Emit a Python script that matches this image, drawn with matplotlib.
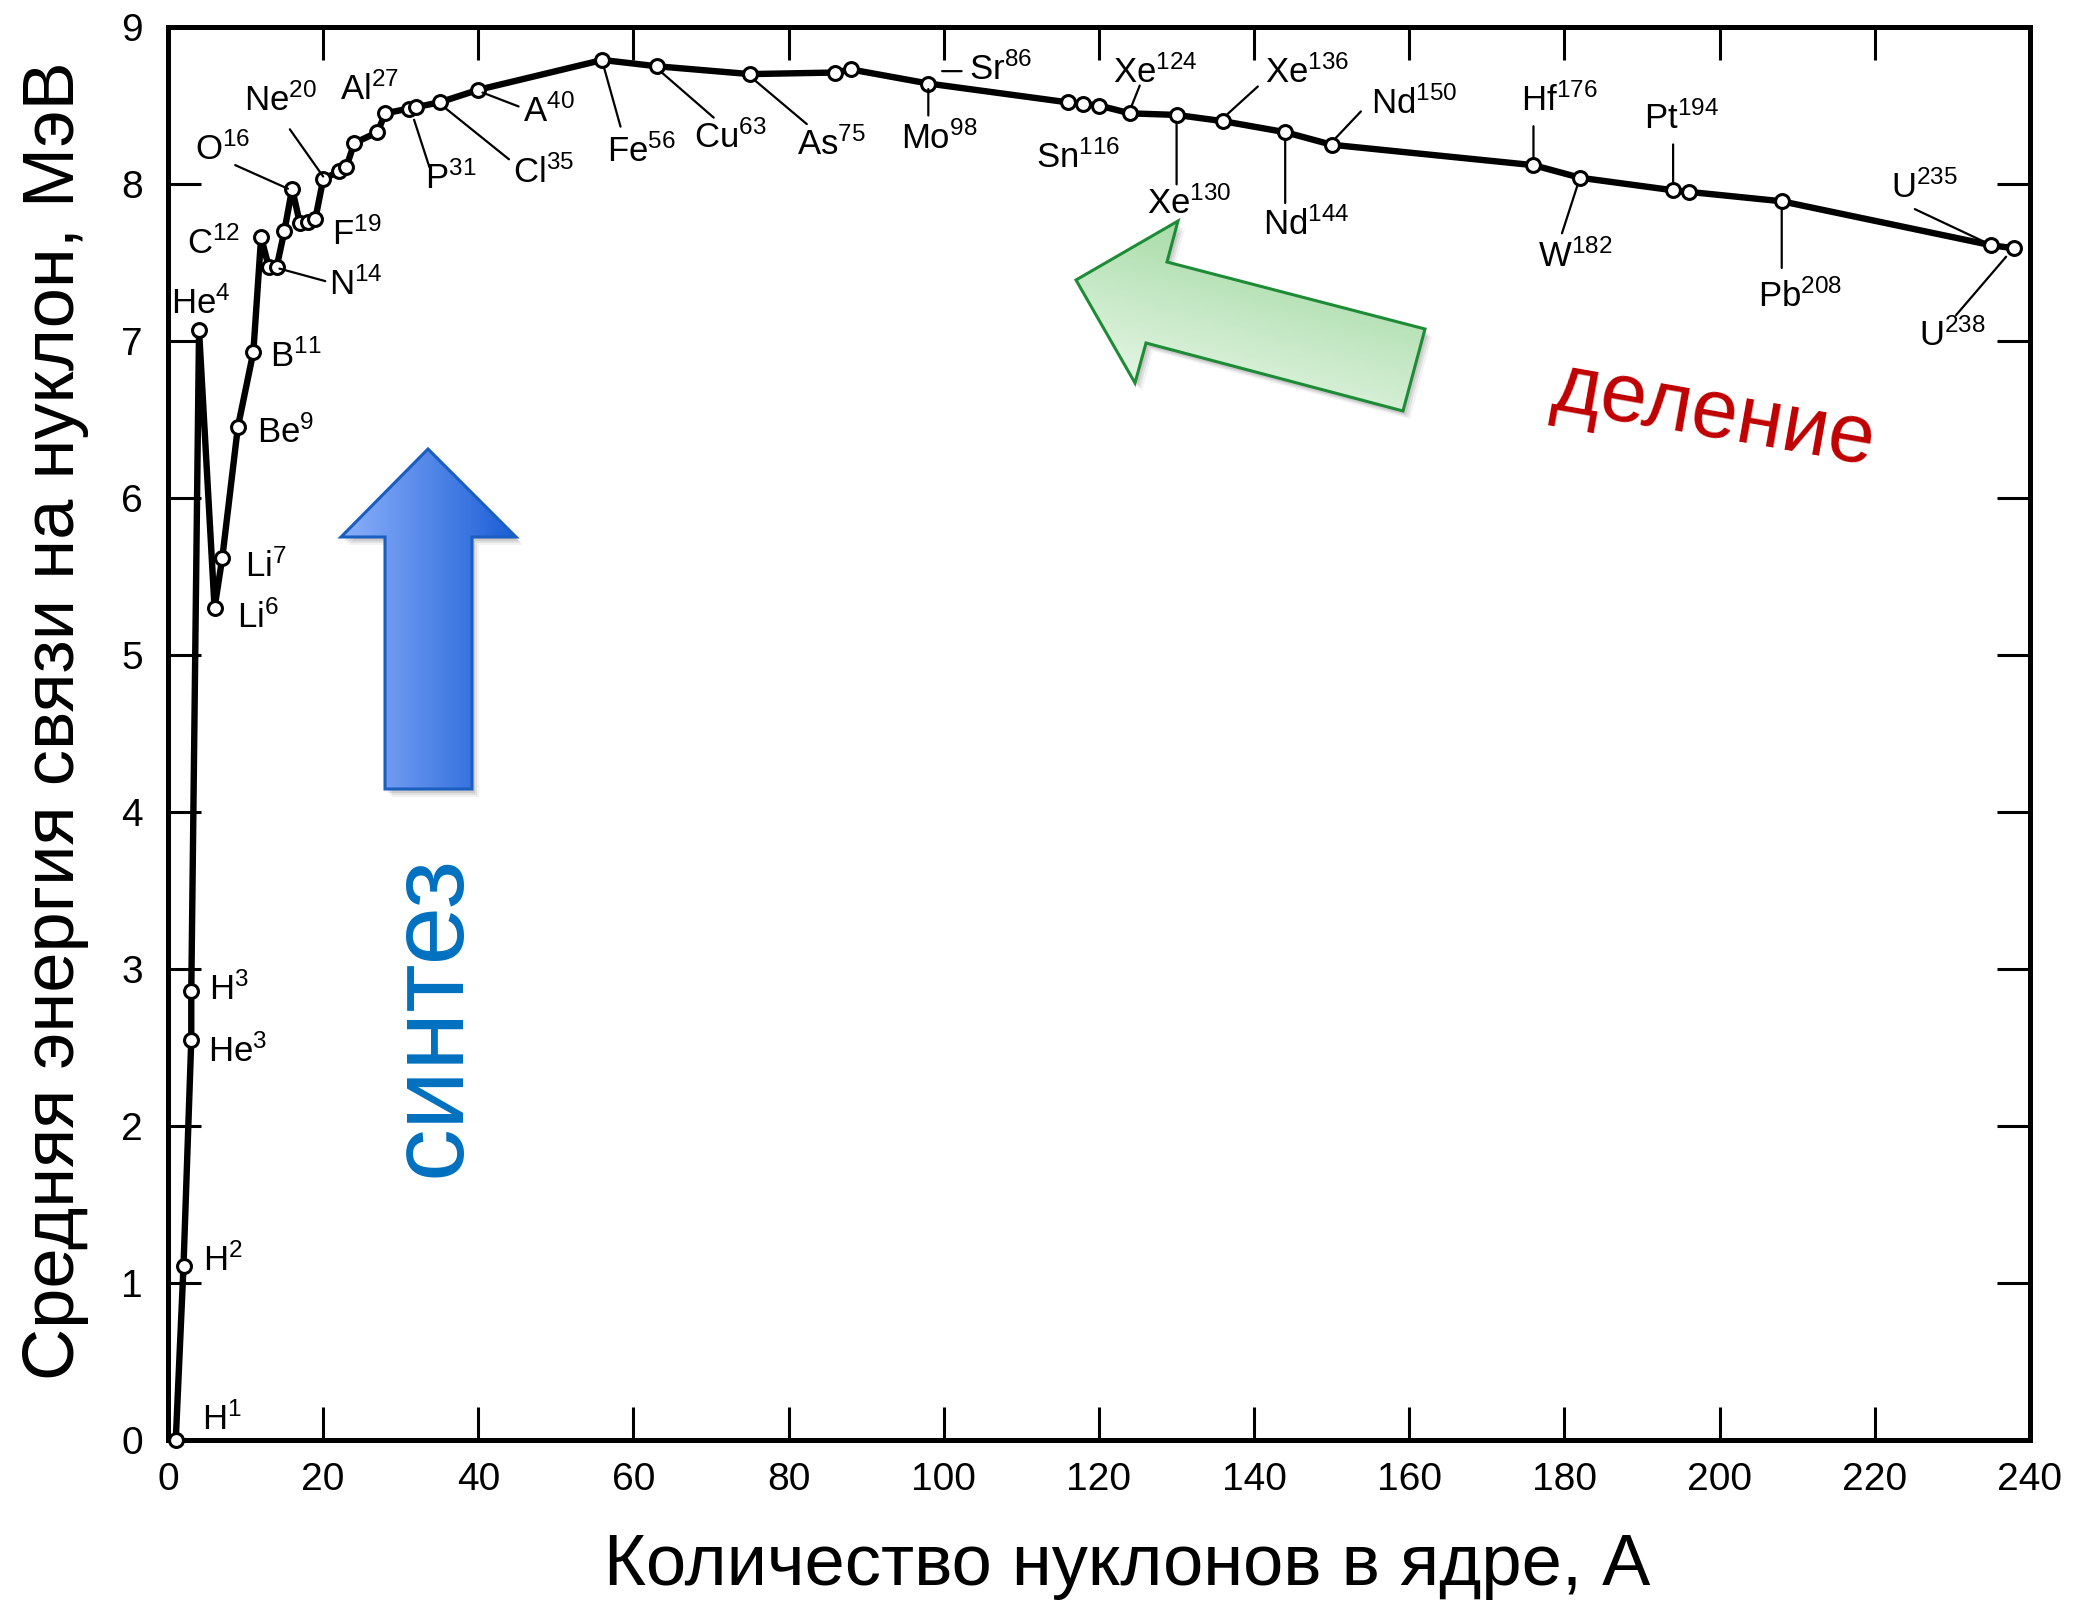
import re
import numpy as np
import matplotlib
matplotlib.use("Agg")
import matplotlib.pyplot as plt
from matplotlib.patches import Polygon
from matplotlib.transforms import ScaledTranslation
from matplotlib.colors import LinearSegmentedColormap

# ---------------------------------------------------------------- data
nuclide = ["H1", "H2", "He3", "H3", "He4", "Li6", "Li7", "Be9", "B11", "C12",
           "C13", "N14", "N15", "O16", "O17", "O18", "F19", "Ne20", "Ne22",
           "Na23", "Mg24", "Al27", "Si28", "P31", "S32", "Cl35", "A40",
           "Fe56", "Cu63", "As75", "Sr86", "Sr88", "Mo98", "Sn116", "Sn118",
           "Sn120", "Xe124", "Xe130", "Xe136", "Nd144", "Nd150", "Hf176",
           "W182", "Pt194", "Pt196", "Pb208", "U235", "U238"]
mass_number = [1, 2, 3, 3, 4, 6, 7, 9, 11, 12,
               13, 14, 15, 16, 17, 18, 19, 20, 22,
               23, 24, 27, 28, 31, 32, 35, 40,
               56, 63, 75, 86, 88, 98, 116, 118,
               120, 124, 130, 136, 144, 150, 176,
               182, 194, 196, 208, 235, 238]
binding_energy = [0.00, 1.11, 2.55, 2.86, 7.07, 5.30, 5.62, 6.45, 6.93, 7.66,
                  7.47, 7.47, 7.70, 7.97, 7.75, 7.76, 7.78, 8.03, 8.08,
                  8.11, 8.26, 8.33, 8.45, 8.48, 8.49, 8.52, 8.60,
                  8.79, 8.75, 8.70, 8.71, 8.73, 8.64, 8.52, 8.51,
                  8.50, 8.45, 8.44, 8.40, 8.33, 8.25, 8.12,
                  8.04, 7.96, 7.95, 7.89, 7.61, 7.59]

x_ticks = [0, 20, 40, 60, 80, 100, 120, 140, 160, 180, 200, 220, 240]
y_ticks = [0, 1, 2, 3, 4, 5, 6, 7, 8, 9]

x_label = "Количество нуклонов в ядре, А"
y_label = "Средняя энергия связи на нуклон, МэВ"
fusion_text = "синтез"
fission_text = "деление"

# ---------------------------------------------------------------- layout
# label offset from its point (points), leader segment (start, end) offsets
label_offset = {
    "H1": (19, 16), "H2": (14, 5), "He3": (12, -7), "H3": (13, 3),
    "He4": (-20, 21), "Li6": (16, -5), "Li7": (16, -5), "Be9": (14, -2),
    "B11": (12, -2), "C12": (-53, -3), "N14": (38, -11), "O16": (-70, 30),
    "F19": (12, -10), "Ne20": (-57, 58), "Al27": (-27, 32), "P31": (12, -49),
    "Cl35": (53, -49), "A40": (32, -14), "Fe56": (3, -64), "Cu63": (27, -50),
    "As75": (34, -49), "Sr86": (96, 4), "Mo98": (-20, -38),
    "Sn116": (-23, -38), "Xe124": (-12, 31), "Xe130": (-21, -62),
    "Xe136": (30, 37), "Nd144": (-16, -65), "Nd150": (28, 31),
    "Hf176": (-9, 48), "W182": (-30, -55), "Pt194": (-21, 53),
    "Pb208": (-17, -67), "U235": (-72, 43), "U238": (-69, -61),
}
leader = {
    "N14": ((2, -1), (35, -10)), "O16": ((-41, 17), (-3, 0)),
    "Ne20": ((-24, 36), (0, 2)), "P31": ((4, -8), (15, -42)),
    "Cl35": ((4, -4), (50, -41)), "A40": ((3, -2), (29, -12)),
    "Fe56": ((1, -5), (13, -48)), "Cu63": ((3, -4), (41, -37)),
    "As75": ((3, -4), (41, -36)), "Sr86": ((77, 1), (91, 1)),
    "Mo98": ((0, -4), (0, -23)), "Xe124": ((1, 5), (7, 20)),
    "Xe130": ((0, -5), (0, -50)), "Xe136": ((3, 5), (25, 25)),
    "Nd144": ((0, -5), (0, -51)), "Nd150": ((3, 5), (21, 24)),
    "Hf176": ((0, 5), (0, 28)), "W182": ((-2, -6), (-13, -40)),
    "Pt194": ((0, 5), (0, 33)), "Pb208": ((0, -6), (0, -48)),
    "U235": ((-55, 26), (-4, 2)), "U238": ((-6, -6), (-42, -48)),
}

FONT = "Liberation Sans"
plt.rcParams["font.family"] = [FONT, "DejaVu Sans"]
plt.rcParams["mathtext.fontset"] = "custom"
plt.rcParams["mathtext.rm"] = FONT
plt.rcParams["mathtext.it"] = FONT
plt.rcParams["mathtext.bf"] = FONT

W, H = 2085, 1605
fig = plt.figure(figsize=(W / 100, H / 100), dpi=100)
fig.patch.set_facecolor("white")

ax = fig.add_axes([168 / W, 1 - 1440 / H, (2030 - 168) / W, (1440 - 27) / H])
ax.set_xlim(0, 240)
ax.set_ylim(0, 9)
ax.set_xticks(x_ticks)
ax.set_yticks(y_ticks)
ax.set_xticklabels([str(v) for v in x_ticks])
ax.set_yticklabels([str(v) for v in y_ticks])
ax.tick_params(which="major", direction="in", length=24, width=2.2,
               top=True, right=True, labelsize=28, colors="black")
ax.tick_params(axis="y", pad=18)
ax.tick_params(axis="x", pad=16)
for sp in ax.spines.values():
    sp.set_linewidth(3.6)

ax.plot(mass_number, binding_energy, color="black", lw=4.6,
        solid_joinstyle="round", marker="o", ms=10, mfc="white",
        mec="black", mew=2.2, zorder=3, clip_on=False)


def shifted(dx, dy):
    return ax.transData + ScaledTranslation(dx / 72, dy / 72, fig.dpi_scale_trans)


for name, (dx, dy) in label_offset.items():
    i = nuclide.index(name)
    a, e = mass_number[i], binding_energy[i]
    sym, mass = re.match(r"([A-Za-z]+)(\d+)", name).groups()
    ax.text(a, e, f"{sym}$^{{{mass}}}$", transform=shifted(dx, dy - 9),
            ha="left", va="baseline", fontsize=25, color="black", zorder=4)
    if name in leader:
        (sx, sy), (ex, ey) = leader[name]
        ax.annotate("", xy=(a, e), xycoords=shifted(ex, ey),
                    xytext=(a, e), textcoords=shifted(sx, sy),
                    arrowprops=dict(arrowstyle="-", lw=1.6, color="black",
                                    shrinkA=0, shrinkB=0), zorder=4)

# ---------------------------------------------------------------- overlay
ov = fig.add_axes([0, 0, 1, 1], zorder=5)
ov.set_xlim(0, W)
ov.set_ylim(H, 0)
ov.axis("off")
ov.patch.set_alpha(0)


def gradient_arrow(verts, values_fn, c0, c1, edge):
    verts = np.asarray(verts, float)
    # soft drop shadow
    for ox, oy, al in [(7, 8, 0.05), (5, 6, 0.07), (3, 4, 0.09)]:
        ov.add_patch(Polygon(verts + [ox, oy], closed=True, facecolor="black",
                             edgecolor="none", alpha=al, zorder=1))
    x0, y0 = verts.min(axis=0)
    x1, y1 = verts.max(axis=0)
    xs = np.linspace(x0, x1, 300)
    ys = np.linspace(y0, y1, 300)
    X, Y = np.meshgrid(xs, ys)
    t = values_fn(X, Y, verts)
    cmap = LinearSegmentedColormap.from_list("g", [c0, c1])
    im = ov.imshow(t, extent=(x0, x1, y1, y0), origin="upper", cmap=cmap,
                   vmin=0, vmax=1, aspect="auto", interpolation="bilinear",
                   zorder=2)
    clip = Polygon(verts, closed=True, transform=ov.transData)
    im.set_clip_path(clip)
    ov.add_patch(Polygon(verts, closed=True, facecolor="none", edgecolor=edge,
                         lw=2.2, joinstyle="miter", zorder=3))


def horiz(X, Y, v):
    return (X - v[:, 0].min()) / (v[:, 0].max() - v[:, 0].min())


def across(X, Y, v):
    d = np.array([-338.0, -90.0])
    d /= np.hypot(*d)
    n = np.array([-d[1], d[0]])
    if n[1] < 0:
        n = -n
    p = v @ n
    return ((X * n[0] + Y * n[1]) - p.min()) / (p.max() - p.min())


blue_arrow = [(428, 449), (516, 537), (472, 537), (472, 789),
              (385, 789), (385, 537), (341, 537)]
green_arrow = [(1076, 280), (1178, 221), (1167, 262), (1425, 329),
               (1403, 411), (1146, 343), (1135, 383)]
gradient_arrow(blue_arrow, horiz, "#8CB0FA", "#1B5ED6", "#1A5EC0")
gradient_arrow(green_arrow, across, "#A9DCA9", "#E4F5E4", "#1E8B37")

ov.text(432, 1016, fusion_text, rotation=90, ha="center", va="center",
        color="#0070C0", fontsize=76, zorder=4)
ov.text(1713, 415, fission_text, rotation=-10, ha="center", va="center",
        color="#C00000", fontsize=60, zorder=4)

fig.text(56 / W, 1 - 721 / H, y_label, rotation=90, ha="center", va="center",
         fontsize=52, color="black")
fig.text(1127 / W, 1 - 1566 / H, x_label, ha="center", va="center",
         fontsize=52, color="black")

fig.savefig("out.png", dpi=100, facecolor="white")
